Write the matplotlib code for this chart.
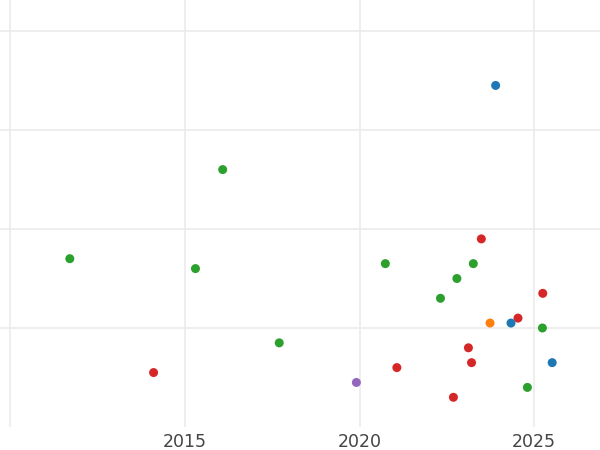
import matplotlib
matplotlib.use("Agg")
import matplotlib.pyplot as plt

# values (x = year, y = unlabelled value)
years = [2023.90, 2016.08, 2011.70, 2015.30, 2020.74, 2023.49, 2023.26, 2022.79,
         2022.32, 2025.25, 2024.54, 2023.74, 2024.34, 2025.24, 2017.70, 2023.12,
         2023.21, 2025.52, 2014.10, 2021.07, 2019.91, 2024.81, 2022.69]
values = [3.45, 2.60, 1.70, 1.60, 1.65, 1.90, 1.65, 1.50,
          1.30, 1.35, 1.10, 1.05, 1.05, 1.00, 0.85, 0.80,
          0.65, 0.65, 0.55, 0.60, 0.45, 0.40, 0.30]
groups = ["blue", "green", "green", "green", "green", "red", "green", "green",
          "green", "red", "red", "orange", "blue", "green", "green", "red",
          "red", "blue", "red", "red", "purple", "green", "red"]

palette = {"blue": "#1f77b4", "orange": "#ff7f0e", "green": "#2ca02c",
           "red": "#d62728", "purple": "#9467bd"}

fig = plt.figure(figsize=(6, 4.5), dpi=100)
ax = fig.add_axes([0, 23 / 450, 1, 427 / 450])

ax.scatter(years, values, c=[palette[g] for g in groups], s=42, linewidths=0, zorder=3)

ax.set_xlim(2009.70, 2026.89)
ax.set_ylim(0, 4.313)
ax.set_xticks([2010, 2015, 2020, 2025])
ax.set_xticklabels(["", "2015", "2020", "2025"])
ax.set_yticks([1, 2, 3, 4])
ax.set_yticklabels([])
ax.tick_params(length=0, labelsize=12.5, labelcolor="#444444", pad=4.5)
ax.grid(True, color="#ebebeb", linewidth=1.2, zorder=0)
ax.set_axisbelow(True)
for s in ax.spines.values():
    s.set_visible(False)

fig.savefig("out.png", dpi=100)
